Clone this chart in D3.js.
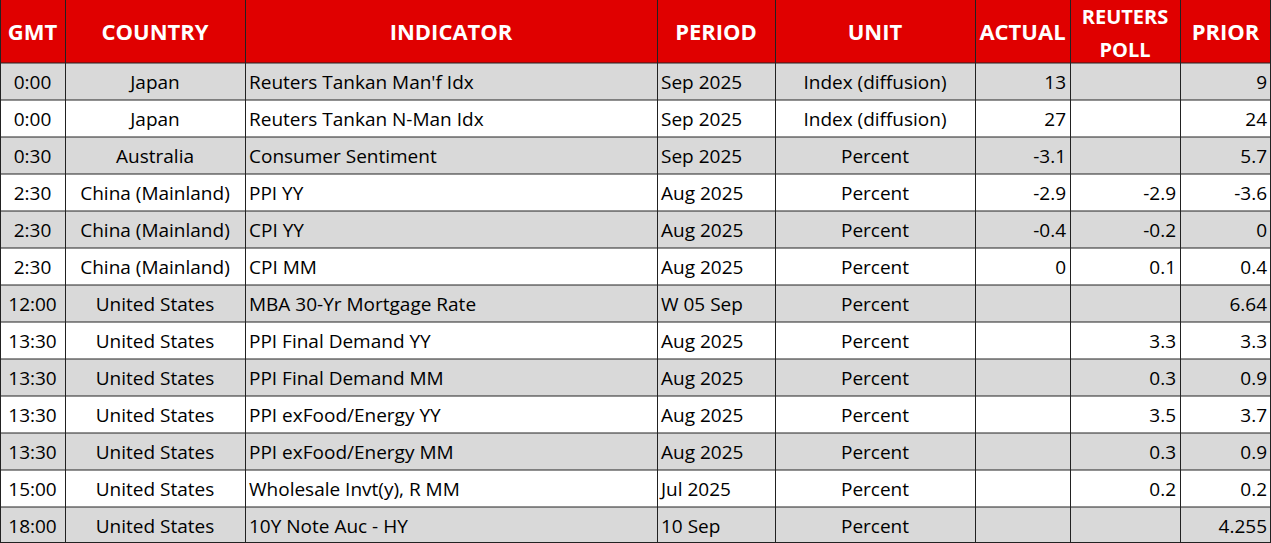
<!DOCTYPE html>
<html><head><meta charset="utf-8">
<script src="https://cdn.jsdelivr.net/npm/d3@7"></script>
<style>body{margin:0;background:#fff}</style></head>
<body><svg id="c" width="1271" height="543"></svg>
<script>
const headers = ["GMT","COUNTRY","INDICATOR","PERIOD","UNIT","ACTUAL","REUTERS\nPOLL","PRIOR"];
const gmt = ["0:00","0:00","0:30","2:30","2:30","2:30","12:00","13:30","13:30","13:30","13:30","15:00","18:00"];
const country = ["Japan","Japan","Australia","China (Mainland)","China (Mainland)","China (Mainland)","United States","United States","United States","United States","United States","United States","United States"];
const indicator = ["Reuters Tankan Man'f Idx","Reuters Tankan N-Man Idx","Consumer Sentiment","PPI YY","CPI YY","CPI MM","MBA 30-Yr Mortgage Rate","PPI Final Demand YY","PPI Final Demand MM","PPI exFood/Energy YY","PPI exFood/Energy MM","Wholesale Invt(y), R MM","10Y Note Auc - HY"];
const period = ["Sep 2025","Sep 2025","Sep 2025","Aug 2025","Aug 2025","Aug 2025","W 05 Sep","Aug 2025","Aug 2025","Aug 2025","Aug 2025","Jul 2025","10 Sep"];
const unit = ["Index (diffusion)","Index (diffusion)","Percent","Percent","Percent","Percent","Percent","Percent","Percent","Percent","Percent","Percent","Percent"];
const actual = ["13","27","-3.1","-2.9","-0.4","0","","","","","","",""];
const poll = ["","","","-2.9","-0.2","0.1","","3.3","0.3","3.5","0.3","0.2",""];
const prior = ["9","24","5.7","-3.6","0","0.4","6.64","3.3","0.9","3.7","0.9","0.2","4.255"];

const colEdges = [0,65,245,657,775,975,1070,1180,1271];
const align = ["middle","middle","start","start","middle","end","end","end"];
const cols = [gmt,country,indicator,period,unit,actual,poll,prior];
const W=1271, H=543, headH=63;
const svg = d3.select("#c");
const y = d3.scaleBand().domain(d3.range(gmt.length)).range([headH, H+1]);
const font = "'Open Sans', 'Liberation Sans', sans-serif";

svg.append("rect").attr("x",0).attr("y",0).attr("width",W).attr("height",headH).attr("fill","#e00000");
headers.forEach((h,i)=>{
  const cx=(colEdges[i]+colEdges[i+1])/2;
  const lines=h.split("\n");
  const t=svg.append("text").attr("x",cx).attr("text-anchor","middle").attr("fill","#fff")
    .attr("font-family",font).attr("font-weight","bold").attr("font-size",lines.length==1?22:20);
  lines.forEach((l,k)=>t.append("tspan").attr("x",cx)
    .attr("y", lines.length==1 ? 40 : 24+k*33).text(l));
});
gmt.forEach((_,r)=>{
  svg.append("rect").attr("x",0).attr("y",y(r)).attr("width",W).attr("height",y.bandwidth())
    .attr("fill", r%2==0 ? "#d9d9d9" : "#fff");
  cols.forEach((c,i)=>{
    const a=align[i];
    const x = a=="middle" ? (colEdges[i]+colEdges[i+1])/2 : a=="start" ? colEdges[i]+4 : colEdges[i+1]-4;
    svg.append("text").attr("x",x).attr("y",y(r)+y.bandwidth()/2+7).attr("text-anchor",a)
      .attr("font-family",font).attr("font-size",19).attr("fill","#000").text(c[r]);
  });
});
colEdges.forEach((x,i)=>svg.append("line").attr("x1",i==colEdges.length-1?x-0.5:x+0.5).attr("x2",i==colEdges.length-1?x-0.5:x+0.5)
  .attr("y1",0).attr("y2",H).attr("stroke","#222").attr("stroke-width",1));
[headH].concat(gmt.map((_,r)=>y(r)+y.bandwidth())).forEach(v=>svg.append("line")
  .attr("x1",0).attr("x2",W).attr("y1",Math.min(v,H-0.5)).attr("y2",Math.min(v,H-0.5)).attr("stroke","#222"));
</script></body></html>
